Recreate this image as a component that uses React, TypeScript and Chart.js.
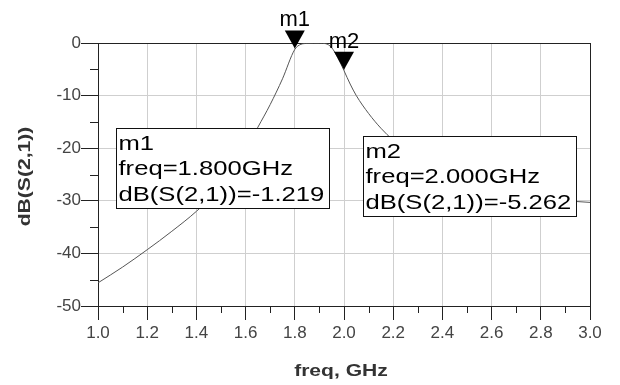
import React, { useEffect, useRef } from 'react';
import { Chart, registerables } from 'chart.js';

Chart.register(...registerables);

// ---- data ----
const freqGHz = [
  1.0, 1.1, 1.2, 1.3, 1.4, 1.5, 1.55, 1.6, 1.65, 1.7, 1.75, 1.8, 1.825, 1.85, 1.875,
  1.9, 1.925, 1.95, 1.975, 2.0, 2.025, 2.05, 2.1, 2.15, 2.2, 2.3, 2.4, 2.5, 2.6, 2.7,
  2.8, 2.9, 3.0,
];
const s21dB = [
  -45.6, -42.6, -39.3, -35.8, -32.0, -27.4, -24.1, -20.2, -16.0, -11.7, -6.8, -1.219, -0.25, -0.08, -0.04,
  -0.05, -0.12, -0.9, -2.8, -5.262, -7.8, -10.0, -13.4, -16.2, -18.5, -22.3, -24.9, -26.8, -28.1, -29.0,
  -29.6, -30.0, -30.3,
];

const xTickMin = 1.0;
const xTickMax = 3.0;
const xTickStep = 0.2;
const yTickMin = -50;
const yTickMax = 0;
const yTickStep = 10;

const markerNames = ['m1', 'm2'];
const markerFreqs = [1.8, 2.0];
const markerValues = [-1.219, -5.262];
// where each marker readout box sits (top-left corner, in data units)
const boxFreqs = [1.073, 2.077];
const boxValues = [-16.2, -17.7];

const xTitle = 'freq, GHz';
const yTitle = 'dB(S(2,1))';

const FONT = '"Liberation Sans", Arial, Helvetica, sans-serif';

function stretchedText(
  ctx: CanvasRenderingContext2D,
  text: string,
  x: number,
  y: number,
  font: string,
  sx: number,
  align: CanvasTextAlign,
  color: string,
  rotate = 0,
) {
  ctx.save();
  ctx.font = font;
  ctx.fillStyle = color;
  ctx.textAlign = align;
  ctx.textBaseline = 'alphabetic';
  ctx.translate(x, y);
  if (rotate) ctx.rotate(rotate);
  ctx.scale(sx, 1);
  ctx.fillText(text, 0, 0);
  ctx.restore();
}

const adsPlugin = {
  id: 'adsDecor',
  beforeDatasetsDraw(chart: any) {
    const { ctx, chartArea: a, scales } = chart;
    const xs = scales.x;
    const ys = scales.y;
    ctx.save();
    ctx.strokeStyle = '#222';
    ctx.lineWidth = 1;
    // minor ticks
    ctx.beginPath();
    for (let v = xTickMin + xTickStep / 2; v < xTickMax; v += xTickStep) {
      const px = Math.round(xs.getPixelForValue(v)) + 0.5;
      ctx.moveTo(px, a.bottom);
      ctx.lineTo(px, a.bottom + 7);
    }
    for (let v = yTickMin + yTickStep / 2; v < yTickMax; v += yTickStep) {
      const py = Math.round(ys.getPixelForValue(v)) + 0.5;
      ctx.moveTo(a.left, py);
      ctx.lineTo(a.left - 8, py);
    }
    ctx.stroke();
    // frame
    ctx.strokeStyle = '#222';
    ctx.strokeRect(Math.round(a.left) + 0.5, Math.round(a.top) + 0.5, Math.round(a.right - a.left), Math.round(a.bottom - a.top));
    ctx.restore();
  },
  afterDatasetsDraw(chart: any) {
    const { ctx, scales } = chart;
    const xs = scales.x;
    const ys = scales.y;
    const boxFont = `21px ${FONT}`;
    const sx = 1.22;
    ctx.save();
    // readout boxes
    for (let i = 0; i < markerNames.length; i++) {
      const lines = [
        markerNames[i],
        `freq=${markerFreqs[i].toFixed(3)}GHz`,
        `dB(S(2,1))=${markerValues[i].toFixed(3)}`,
      ];
      ctx.font = boxFont;
      let w = 0;
      for (const l of lines) w = Math.max(w, ctx.measureText(l).width * sx);
      const bx = Math.round(xs.getPixelForValue(boxFreqs[i])) + 0.5;
      const by = Math.round(ys.getPixelForValue(boxValues[i])) + 0.5;
      const bw = Math.round(w + 7);
      const bh = 80;
      ctx.fillStyle = '#fff';
      ctx.fillRect(bx, by, bw, bh);
      ctx.strokeStyle = '#111';
      ctx.lineWidth = 1;
      ctx.strokeRect(bx, by, bw, bh);
      lines.forEach((l, k) => {
        stretchedText(ctx, l, bx + 2, by + 21 + k * 25.5, boxFont, sx, 'left', '#000');
      });
    }
    // marker triangles and names
    for (let i = 0; i < markerNames.length; i++) {
      const px = xs.getPixelForValue(markerFreqs[i]);
      const py = ys.getPixelForValue(markerValues[i]) - 1;
      ctx.fillStyle = '#000';
      ctx.beginPath();
      ctx.moveTo(px, py);
      ctx.lineTo(px - 10, py - 18);
      ctx.lineTo(px + 10, py - 18);
      ctx.closePath();
      ctx.fill();
      ctx.font = `22px ${FONT}`;
      ctx.textAlign = 'center';
      ctx.textBaseline = 'alphabetic';
      ctx.fillText(markerNames[i], px, py - 22);
    }
    ctx.restore();
  },
  afterDraw(chart: any) {
    const { ctx, chartArea: a } = chart;
    const titleFont = `bold 17px ${FONT}`;
    stretchedText(ctx, xTitle, (a.left + a.right) / 2 - 3, 376, titleFont, 1.24, 'center', '#333');
    stretchedText(ctx, yTitle, 30, (a.top + a.bottom) / 2 + 2, titleFont, 1.24, 'center', '#333', -Math.PI / 2);
  },
};

export default function App() {
  const ref = useRef<HTMLCanvasElement | null>(null);
  useEffect(() => {
    if (!ref.current) return;
    const chart = new Chart(ref.current, {
      type: 'line',
      data: {
        datasets: [
          {
            data: freqGHz.map((f, i) => ({ x: f, y: s21dB[i] })),
            borderColor: '#555',
            borderWidth: 1,
            pointRadius: 0,
            cubicInterpolationMode: 'monotone',
            fill: false,
          },
        ],
      },
      options: {
        responsive: false,
        animation: false,
        events: [],
        layout: { padding: { left: 0, right: 30, top: 43, bottom: 0 } },
        plugins: { legend: { display: false }, tooltip: { enabled: false }, title: { display: false } },
        scales: {
          x: {
            type: 'linear',
            min: xTickMin,
            max: xTickMax,
            afterFit: (s: any) => {
              s.height = 79;
            },
            ticks: {
              stepSize: xTickStep,
              padding: 3,
              color: '#444',
              font: { family: FONT, size: 17 },
              maxRotation: 0,
              autoSkip: false,
              callback: (v: any) => Number(v).toFixed(1),
            },
            grid: { color: '#cfcfcf', lineWidth: 1, tickLength: 14, tickColor: '#222', drawTicks: true },
            border: { display: true, color: '#222', width: 1 },
          },
          y: {
            type: 'linear',
            min: yTickMin,
            max: yTickMax,
            afterFit: (s: any) => {
              s.width = 98;
            },
            ticks: {
              stepSize: yTickStep,
              padding: 0,
              color: '#444',
              font: { family: FONT, size: 17 },
              autoSkip: false,
              callback: (v: any) => String(v),
            },
            grid: { color: '#cfcfcf', lineWidth: 1, tickLength: 17, tickColor: '#222', drawTicks: true },
            border: { display: true, color: '#222', width: 1 },
          },
        },
      },
      plugins: [adsPlugin],
    } as any);
    return () => chart.destroy();
  }, []);
  return (
    <div style={{ position: 'fixed', left: 0, top: 0, width: 620, height: 385, background: '#fff' }}>
      <canvas ref={ref} width={620} height={385} style={{ display: 'block' }} />
    </div>
  );
}
